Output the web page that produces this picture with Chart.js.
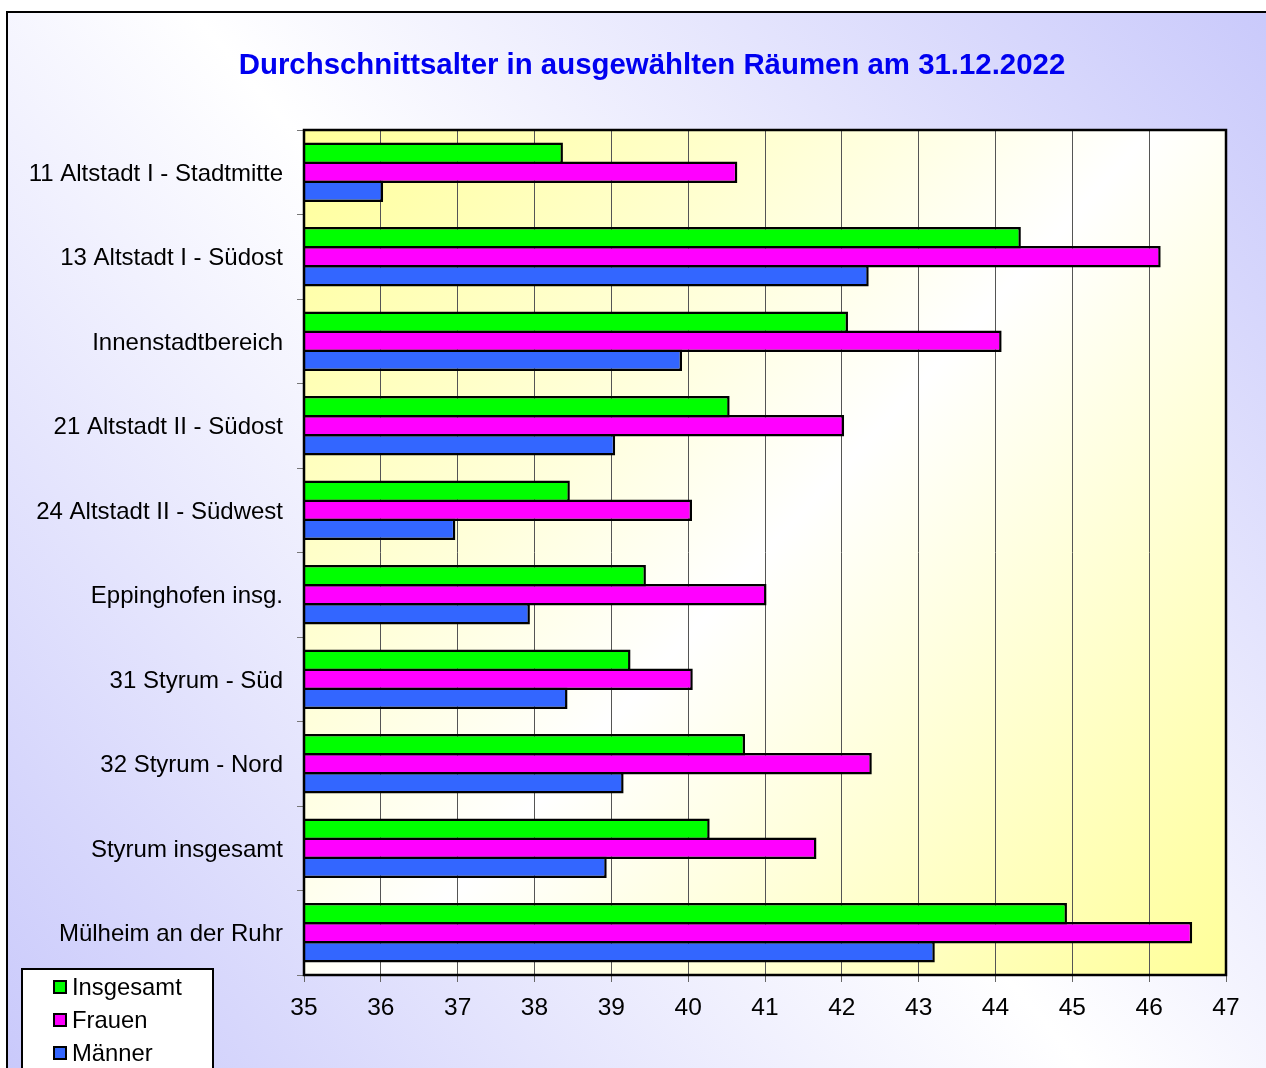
<!DOCTYPE html>
<html>
<head>
<meta charset="utf-8">
<script src="https://cdn.jsdelivr.net/npm/chart.js@4/dist/chart.umd.min.js"></script>
<style>
  html, body { margin: 0; padding: 0; background: #ffffff; }
  #wrap { width: 1266px; height: 1068px; position: relative; }
</style>
</head>
<body>
<div id="wrap"><canvas id="c" width="1266" height="1068"></canvas></div>
<script>
const titleText = 'Durchschnittsalter in ausgewählten Räumen am 31.12.2022';
const categories = [
  '11 Altstadt I - Stadtmitte',
  '13 Altstadt I - Südost',
  'Innenstadtbereich',
  '21 Altstadt II - Südost',
  '24 Altstadt II - Südwest',
  'Eppinghofen insg.',
  '31 Styrum - Süd',
  '32 Styrum - Nord',
  'Styrum insgesamt',
  'Mülheim an der Ruhr'
];
const seriesNames = ['Insgesamt', 'Frauen', 'Männer'];
const insgesamt = [38.37, 44.33, 42.08, 40.54, 38.46, 39.45, 39.25, 40.74, 40.28, 44.93];
const frauen    = [40.64, 46.15, 44.08, 42.03, 40.05, 41.02, 40.06, 42.39, 41.67, 46.56];
const maenner   = [36.03, 42.35, 39.92, 39.05, 36.97, 37.94, 38.43, 39.16, 38.94, 43.21];
const xMin = 35, xMax = 47, xStep = 1;

const FONT = '"Liberation Sans", Arial, sans-serif';
const colors = ['#00ff00', '#ff00ff', '#3366ff'];

const bgPlugin = {
  id: 'bg',
  beforeDraw(chart) {
    const ctx = chart.ctx;
    const W = chart.width, H = chart.height;
    ctx.save();
    ctx.fillStyle = '#ffffff';
    ctx.fillRect(0, 0, W, H);
    const g = ctx.createLinearGradient(W, 0, 0, H);
    g.addColorStop(0, '#c9c9fb');
    g.addColorStop(0.5, '#ffffff');
    g.addColorStop(1, '#c9c9fb');
    ctx.fillStyle = g;
    ctx.fillRect(7, 12, W, H);
    ctx.strokeStyle = '#000000';
    ctx.lineWidth = 2;
    ctx.beginPath();
    ctx.moveTo(7, H + 5);
    ctx.lineTo(7, 12);
    ctx.lineTo(W + 5, 12);
    ctx.stroke();
    const a = chart.chartArea;
    const pg = ctx.createLinearGradient(a.left, a.top, a.right, a.bottom);
    pg.addColorStop(0, '#ffff99');
    pg.addColorStop(0.5, '#ffffff');
    pg.addColorStop(1, '#ffff99');
    ctx.fillStyle = pg;
    ctx.fillRect(a.left, a.top, a.right - a.left, a.bottom - a.top);
    ctx.fillStyle = '#0000f0';
    ctx.font = 'bold 29.4px ' + FONT;
    ctx.textAlign = 'center';
    ctx.textBaseline = 'alphabetic';
    ctx.fillText(titleText, 652, 74);
    ctx.restore();
  },
  afterDatasetsDraw(chart) {
    const ctx = chart.ctx;
    const a = chart.chartArea;
    ctx.save();
    ctx.strokeStyle = '#000000';
    ctx.lineWidth = 2.5;
    ctx.strokeRect(a.left, a.top, a.right - a.left, a.bottom - a.top);
    ctx.restore();
  },
  afterDraw(chart) {
    const ctx = chart.ctx;
    ctx.save();
    ctx.fillStyle = '#ffffff';
    ctx.fillRect(22, 969, 191, 120);
    ctx.strokeStyle = '#000000';
    ctx.lineWidth = 2;
    ctx.strokeRect(22, 969, 191, 120);
    ctx.font = '23.8px ' + FONT;
    ctx.textAlign = 'left';
    ctx.textBaseline = 'middle';
    chart.data.datasets.forEach((ds, i) => {
      const cy = 987 + i * 33;
      ctx.fillStyle = ds.backgroundColor;
      ctx.fillRect(54, cy - 6, 12, 12);
      ctx.lineWidth = 2;
      ctx.strokeStyle = '#000000';
      ctx.strokeRect(54, cy - 6, 12, 12);
      ctx.fillStyle = '#000000';
      ctx.fillText(ds.label, 72, cy + 1);
    });
    ctx.restore();
  }
};

const seriesData = [insgesamt, frauen, maenner];
const datasets = seriesNames.map((name, i) => ({
  label: name,
  data: seriesData[i],
  backgroundColor: colors[i],
  borderColor: '#000000',
  borderWidth: 2.5,
  borderSkipped: 'start',
  categoryPercentage: 0.675,
  barPercentage: 1.12
}));

new Chart(document.getElementById('c'), {
  type: 'bar',
  data: { labels: categories, datasets },
  options: {
    indexAxis: 'y',
    responsive: false,
    animation: false,
    devicePixelRatio: 1,
    layout: { padding: { top: 130, right: 40, bottom: 0, left: 0 } },
    plugins: {
      legend: { display: false },
      title: { display: false },
      tooltip: { enabled: false }
    },
    scales: {
      x: {
        type: 'linear',
        min: xMin,
        max: xMax,
        ticks: {
          stepSize: xStep,
          color: '#000000',
          font: { family: FONT, size: 24.5 },
          padding: 12,
          maxRotation: 0,
          autoSkip: false
        },
        grid: {
          color: '#555555',
          lineWidth: 1,
          tickLength: 7,
          tickColor: '#666666'
        },
        border: { display: false },
        afterFit(scale) { scale.height = 93; }
      },
      y: {
        ticks: {
          color: '#000000',
          font: { family: FONT, size: 24 },
          padding: 14,
          labelOffset: 2,
          autoSkip: false
        },
        grid: {
          offset: true,
          drawOnChartArea: false,
          drawTicks: true,
          tickLength: 7,
          tickColor: '#777777',
          lineWidth: 1
        },
        border: { display: false },
        afterFit(scale) { scale.width = 304; }
      }
    }
  },
  plugins: [bgPlugin]
});
</script>
</body>
</html>
